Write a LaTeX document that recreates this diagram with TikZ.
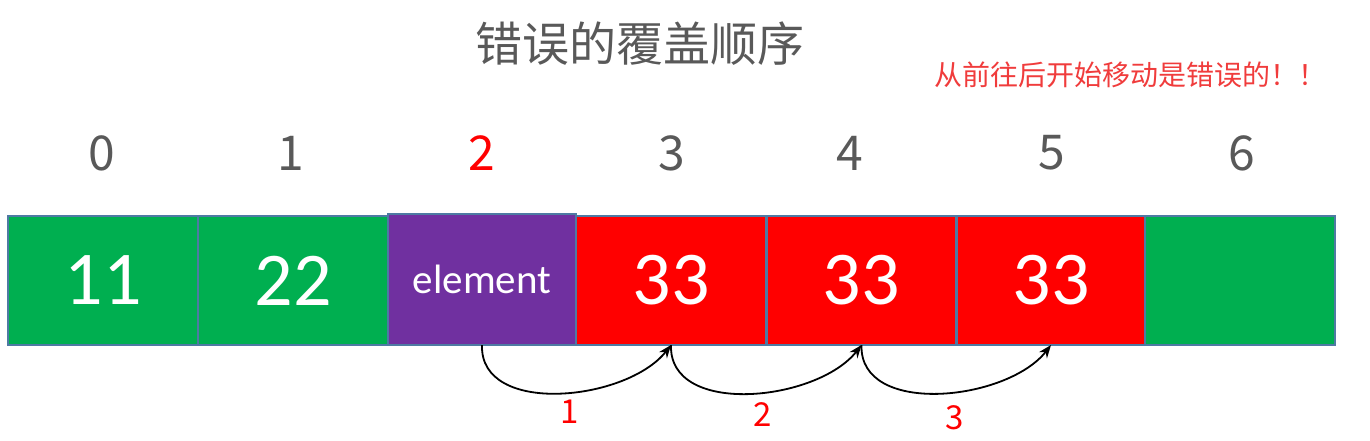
\documentclass[tikz,border=0pt]{standalone}
\usepackage{fontspec}
\setmainfont{Carlito}
\newfontfamily\cjk{Noto Sans CJK SC}
\usetikzlibrary{arrows.meta}
\definecolor{cgreen}{HTML}{00AF50}
\definecolor{cpurple}{HTML}{7030A0}
\definecolor{cred}{HTML}{FF0000}
\definecolor{cborder}{HTML}{4E7AA3}
\definecolor{cgray}{HTML}{595959}
\definecolor{cnote}{HTML}{F03C3C}
\tikzset{
  cell/.style={draw=cborder, line width=1.2pt, minimum width=190pt, minimum height=129pt,
    inner sep=0pt, outer sep=0pt, text=white, font=\fontsize{76}{80}\selectfont},
  idx/.style={text=cgray, inner sep=0pt, font=\cjk\fontsize{48}{56}\selectfont},
  steplabel/.style={text=cred, inner sep=0pt, font=\cjk\fontsize{33}{40}\selectfont},
  movearrow/.style={black, line width=1.8pt, -{Stealth[length=13pt,width=10pt]}},
  hop/.style={out=-92,in=-128,looseness=0.97},
}
\begin{document}
\begin{tikzpicture}[x=1pt,y=-1pt]
\useasboundingbox (0,0) rectangle (1370,440);
\node[cell, fill=cgreen] (c0) at (103,280.5) {11};
\node[cell, fill=cgreen] (c1) at (293,280.5) {22};
\node[cell, fill=cpurple, minimum width=188pt, minimum height=131pt, font=\fontsize{41}{44}\selectfont] (e) at (482,279.5) {element};
\node[cell, fill=cred] (c3) at (671,280.5) {33};
\node[cell, fill=cred, minimum width=189pt] (c4) at (861.5,280.5) {33};
\node[cell, fill=cred, minimum width=188pt] (c5) at (1051,280.5) {33};
\node[cell, fill=cgreen] (c6) at (1240,280.5) {};

\node[idx] (i0) at (102,153) {0};
\node[idx] (i1) at (291,153) {1};
\node[idx, text=cred] (i2) at (482,153) {2};
\node[idx] (i3) at (672,153) {3};
\node[idx] (i4) at (850,153) {4};
\node[idx] (i5) at (1052,153) {5};
\node[idx] (i6) at (1242,153) {6};

\node[text=cgray, inner sep=0pt, font=\cjk\fontsize{47}{56}\selectfont] (title) at (640,44) {错误的覆盖顺序};
\node[text=cnote, inner sep=0pt, font=\cjk\fontsize{28}{34}\selectfont] (note) at (1130,75) {从前往后开始移动是错误的！！};

\draw[movearrow] (e.south) to[hop] (c3.south);
\draw[movearrow] (c3.south) to[hop] (c4.south);
\draw[movearrow] (c4.south) to[hop] (c5.south);

\node[steplabel] (s1) at (570,412) {1};
\node[steplabel] (s2) at (763,415) {2};
\node[steplabel] (s3) at (955,418) {3};
\end{tikzpicture}
\end{document}
